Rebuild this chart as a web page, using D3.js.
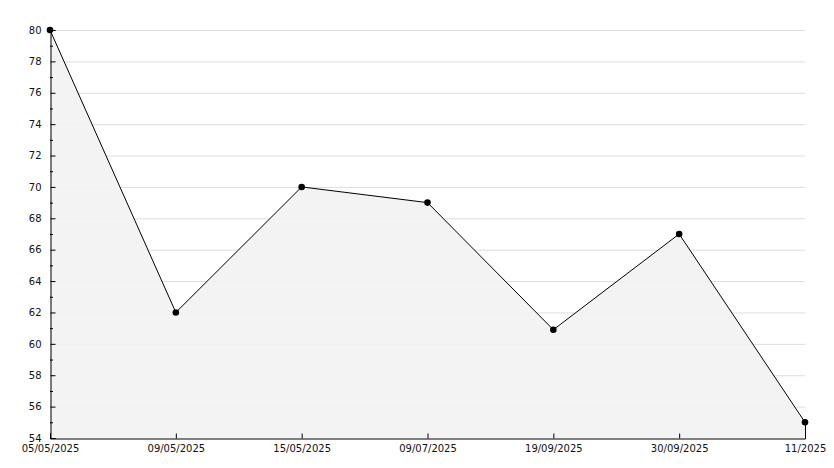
<!DOCTYPE html>
<html><head><meta charset="utf-8">
<script src="https://cdn.jsdelivr.net/npm/d3@7"></script>
<style>body{margin:0;background:#fff;}svg{display:block;}</style>
</head><body>
<svg id="c" width="834" height="468"></svg>
<script>
const categories = ["05/05/2025","09/05/2025","15/05/2025","09/07/2025","19/09/2025","30/09/2025","11/2025"];
const values = [80, 62, 70, 69, 60.9, 67, 55];
const yTicks = [54,56,58,60,62,64,66,68,70,72,74,76,78,80];

const svg = d3.select("#c");
const m = {l:50, r:805, t:30, b:438};
const x = d3.scalePoint().domain(categories).range([m.l, m.r]);
const y = d3.scaleLinear().domain([54,80]).range([m.b, m.t]);
const font = "DejaVu Sans, sans-serif";

// grid
svg.append("g").selectAll("line").data(yTicks.filter(d=>d>54)).join("line")
  .attr("x1", m.l).attr("x2", m.r)
  .attr("y1", d=>y(d)+0.5).attr("y2", d=>y(d)+0.5)
  .attr("stroke", "#dddddd").attr("stroke-width", 1);

const data = categories.map((c,i)=>({c, v: values[i]}));
// area
svg.append("path").datum(data)
  .attr("d", d3.area().x(d=>x(d.c)).y0(m.b).y1(d=>y(d.v)))
  .attr("fill", "#f2f2f2").attr("fill-opacity", 0.9);
// right edge
svg.append("line").attr("x1", m.r+0.5).attr("x2", m.r+0.5)
  .attr("y1", y(values[values.length-1])).attr("y2", m.b)
  .attr("stroke", "#000");
// line
svg.append("path").datum(data)
  .attr("d", d3.line().x(d=>x(d.c)).y(d=>y(d.v)))
  .attr("fill", "none").attr("stroke", "#000").attr("stroke-width", 1);

// y axis
const ya = svg.append("g").attr("transform", `translate(${m.l+0.5},0)`)
  .call(d3.axisLeft(y).tickValues(yTicks).tickSize(-5).tickPadding(9).tickFormat(d3.format("d")));
ya.select(".domain").attr("stroke", "#000");
ya.selectAll("text").attr("font-family", font).attr("font-size", 10).attr("fill", "#111");
ya.selectAll(".tick line").attr("stroke", "#000");
// minor ticks
svg.append("g").selectAll("line").data(d3.range(55,80,2)).join("line")
  .attr("x1", m.l).attr("x2", m.l+3).attr("y1", d=>y(d)+0.5).attr("y2", d=>y(d)+0.5)
  .attr("stroke", "#000");

// x axis
const xa = svg.append("g").attr("transform", `translate(0,${m.b+0.5})`)
  .call(d3.axisBottom(x).tickSize(-5).tickPadding(6));
xa.select(".domain").attr("stroke", "#000");
xa.selectAll(".tick line").attr("stroke", "#000");
xa.selectAll("text").attr("font-family", font).attr("font-size", 10).attr("fill", "#111");

// markers
svg.append("g").selectAll("path").data(data).join("path")
  .attr("transform", d=>`translate(${x(d.c)},${y(d.v)})`)
  .attr("d", d3.symbol(d3.symbolCircle, 34))
  .attr("fill", "#000");
</script>
</body></html>
